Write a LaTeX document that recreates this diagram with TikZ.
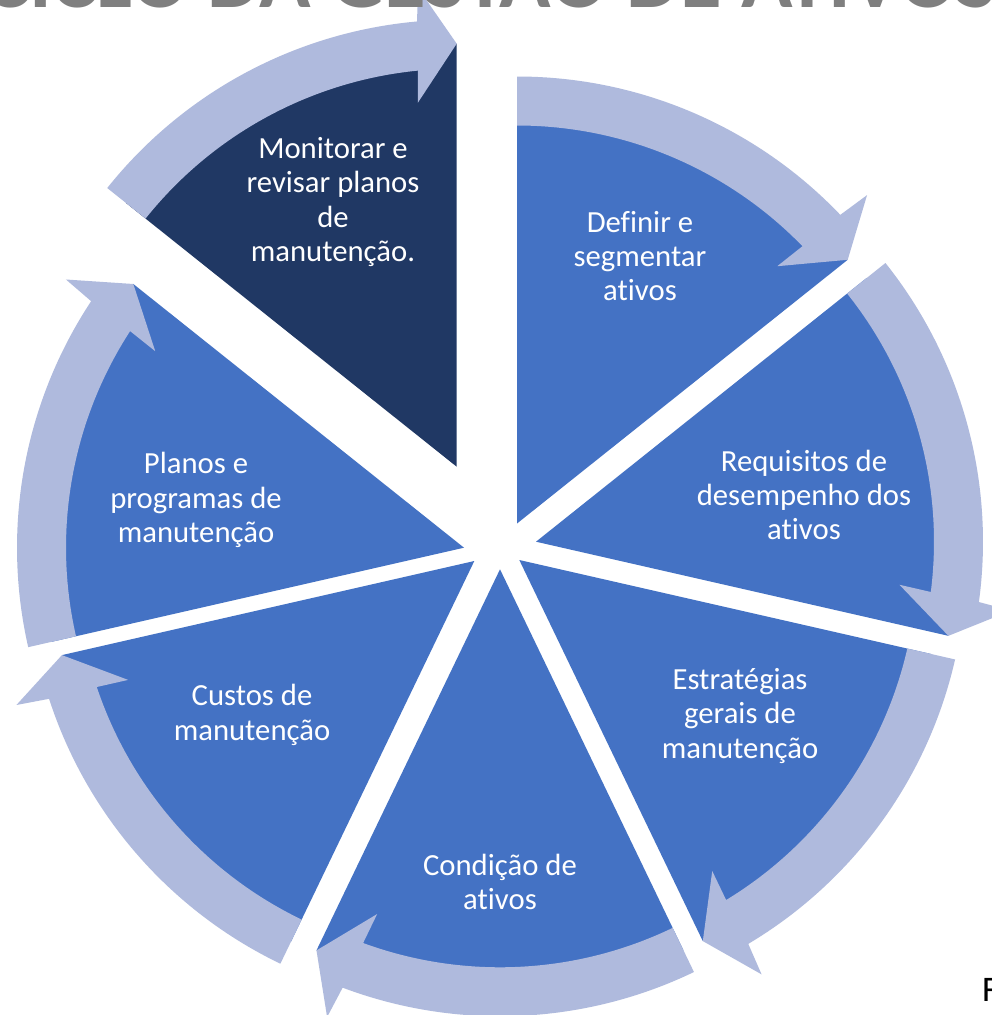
\documentclass[tikz,border=0pt]{standalone}
\usepackage{fontspec}
\setmainfont{Carlito}[Ligatures=NoCommon]
\definecolor{segblue}{HTML}{4472C4}
\definecolor{segdark}{HTML}{203864}
\definecolor{arrowlight}{HTML}{AFBADD}
\definecolor{titlegray}{HTML}{7F7F7F}
\tikzset{
  segtext/.style={text=white, align=center, font=\fontsize{30.7}{34.3}\selectfont, inner sep=0pt},
}
% wedge: apex, start angle, end angle, colour
\newcommand\segwedge[4]{\fill[#4, shift={(#1)}] (0,0) -- (#2:423) arc[start angle=#2, end angle=#3, radius=423] -- cycle;}
% curved arrow: apex, start angle (tail), end angle (tip)
\newcommand\segarrow[3]{\fill[arrowlight, shift={(#1)}] (#2:398) -- (#2:447)
  arc[start angle=#2, end angle={#3+5.1}, radius=447] -- ({#3+4.6}:480) -- (#3:423)
  -- ({#3+6.1}:366) -- ({#3+5.6}:398) arc[start angle={#3+5.6}, end angle=#2, radius=398] -- cycle;}
\begin{document}
\begin{tikzpicture}[x=1pt,y=1pt]
\useasboundingbox (0,0) rectangle (992,-1015);
\clip (0,0) rectangle (992,-1015);
\fill[white] (0,0) rectangle (992,-1015);

\coordinate (A1) at (517,-523.5);
\coordinate (A2) at (536,-541.7);
\coordinate (A3) at (519.3,-560);
\coordinate (A4) at (500,-569.3);
\coordinate (A5) at (474.3,-561);
\coordinate (A6) at (464,-547.7);
\coordinate (A7) at (456.7,-466.7);

\segwedge{A1}{90}{38.571}{segblue}
\segwedge{A2}{38.571}{-12.857}{segblue}
\segwedge{A3}{-12.857}{-64.286}{segblue}
\segwedge{A4}{-64.286}{-115.714}{segblue}
\segwedge{A5}{-115.714}{-167.143}{segblue}
\segwedge{A6}{-167.143}{-218.571}{segblue}
\segwedge{A7}{141.429}{90}{segdark}

\segarrow{A1}{90}{38.571}
\segarrow{A2}{38.571}{-12.857}
\segarrow{A3}{-12.857}{-64.286}
\segarrow{A4}{-64.286}{-115.714}
\segarrow{A5}{-115.714}{-167.143}
\segarrow{A6}{-167.143}{-218.571}
\segarrow{A7}{141.429}{90}

\node[segtext] (t1) at (640,-256) {Definir e\\segmentar\\ativos};
\node[segtext] (t2) at (804,-495) {Requisitos de\\desempenho dos\\ativos};
\node[segtext] (t3) at (740,-716) {Estratégias\\gerais de\\manutenção};
\node[segtext] (t4) at (500,-882) {Condição de\\ativos};
\node[segtext] (t5) at (252,-715) {Custos de\\manutenção};
\node[segtext] (t6) at (196,-500) {Planos e\\programas de\\manutenção};
\node[segtext] (t7) at (333,-202) {Monitorar e\\revisar planos\\de\\manutenção.};

\node[anchor=base west, inner sep=0pt, text=titlegray, font=\bfseries\fontsize{85}{85}\selectfont] (title) at (-16,-7) {CICLO DA GESTÃO DE ATIVOS};
\node[anchor=base west, inner sep=0pt, text=black, font=\fontsize{36}{36}\selectfont] (src) at (982,-1001.5) {F};
\end{tikzpicture}
\end{document}
